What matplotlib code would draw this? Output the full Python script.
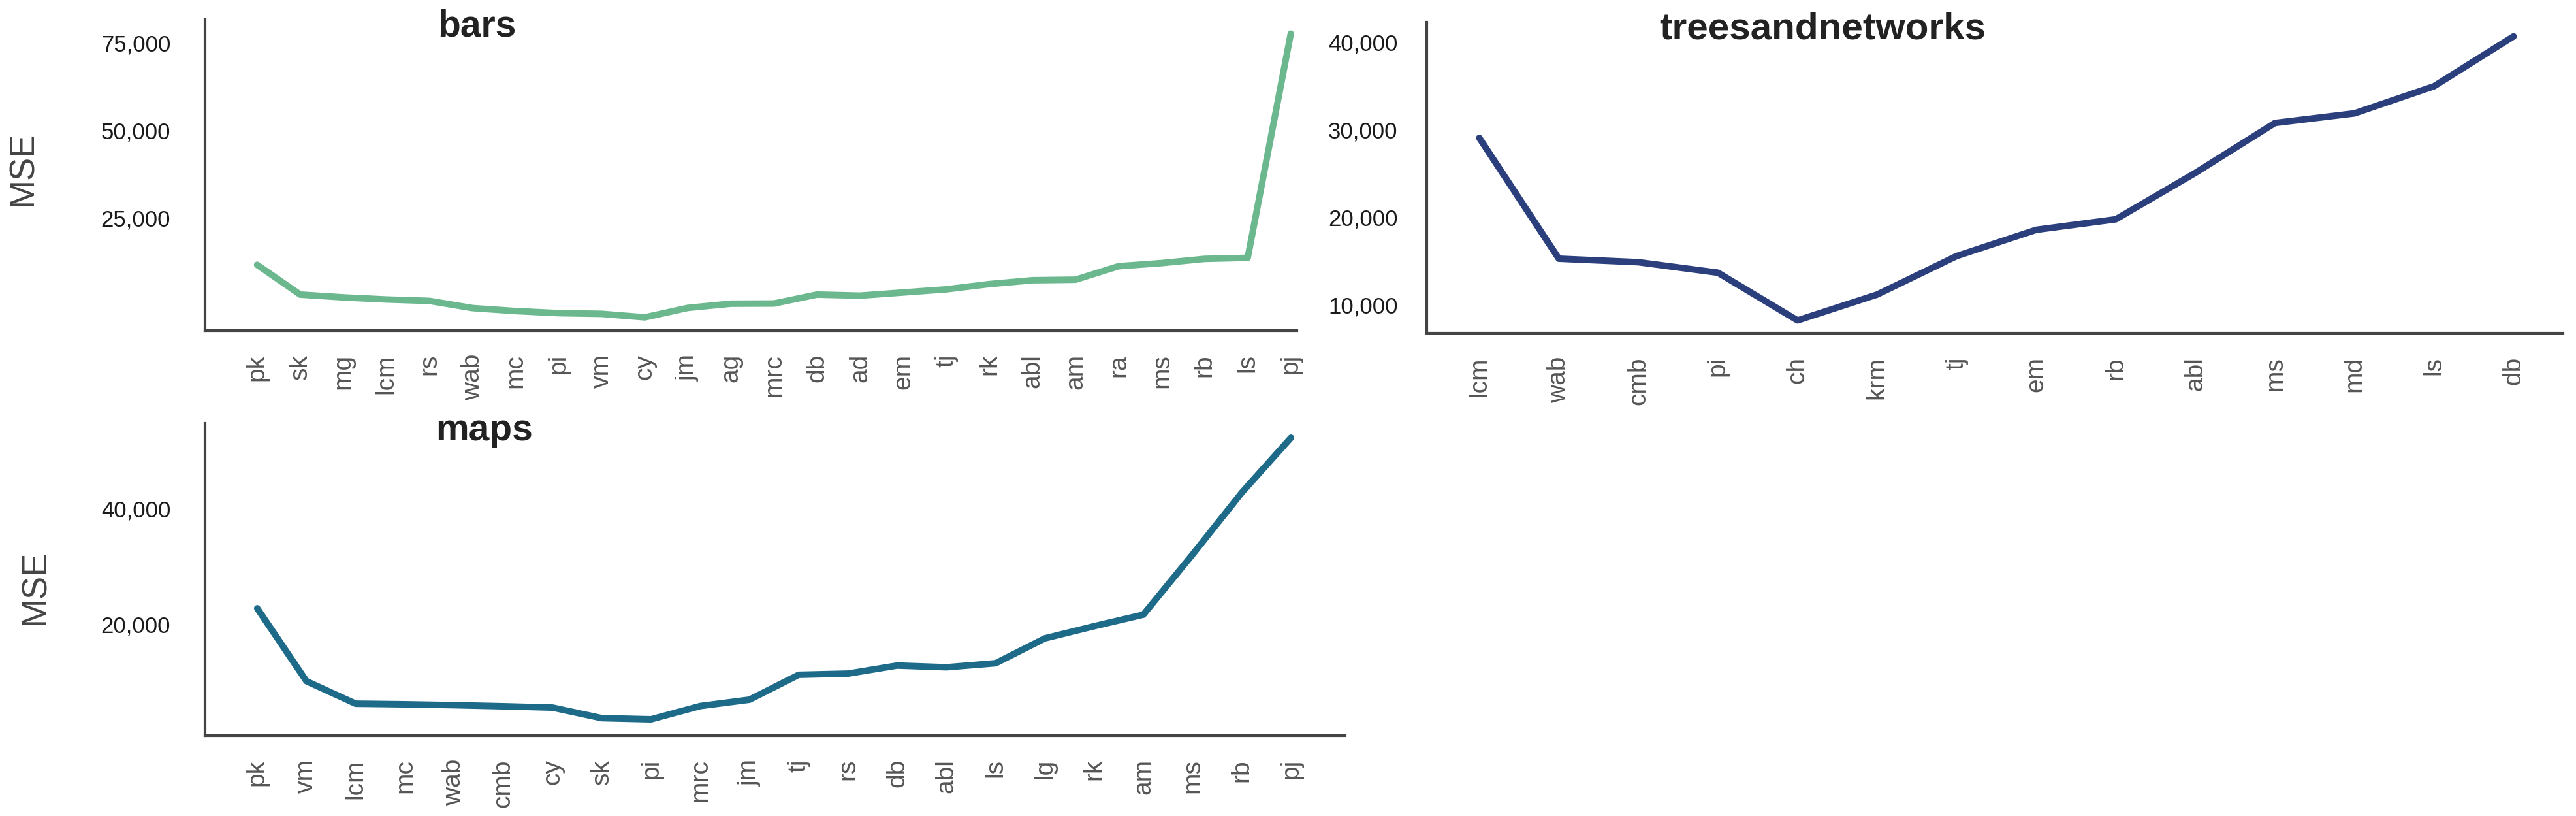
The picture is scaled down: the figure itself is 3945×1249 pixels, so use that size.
import matplotlib
matplotlib.use("Agg")
import matplotlib.pyplot as plt
from matplotlib.ticker import FuncFormatter, FixedLocator

plt.rcParams['font.family'] = ['Liberation Sans', 'DejaVu Sans']

# ---------------- data ----------------
bars_labels = ['pk', 'sk', 'mg', 'lcm', 'rs', 'wab', 'mc', 'pi', 'vm', 'cy', 'jm', 'ag', 'mrc',
               'db', 'ad', 'em', 'tj', 'rk', 'abl', 'am', 'ra', 'ms', 'rb', 'ls', 'pj']
bars_mse = [11500, 3000, 2200, 1600, 1200, -850, -1700, -2300, -2500, -3500, -800, 400, 450,
            3000, 2700, 3600, 4500, 6000, 7100, 7250, 11100, 12000, 13200, 13500, 77500]

trees_labels = ['lcm', 'wab', 'cmb', 'pi', 'ch', 'krm', 'tj', 'em', 'rb', 'abl', 'ms', 'md', 'ls', 'db']
trees_mse = [29100, 15300, 14900, 13700, 8250, 11200, 15600, 18600, 19800, 25100, 30800, 31900, 35000, 40700]

maps_labels = ['pk', 'vm', 'lcm', 'mc', 'wab', 'cmb', 'cy', 'sk', 'pi', 'mrc', 'jm', 'tj', 'rs',
               'db', 'abl', 'ls', 'lg', 'rk', 'am', 'ms', 'rb', 'pj']
maps_mse = [22700, 10100, 6200, 6100, 5950, 5760, 5530, 3700, 3500, 5800, 6900, 11200, 11400,
            12800, 12500, 13200, 17500, 19600, 21600, 32000, 42700, 52200]

bars_ticks = [25000, 50000, 75000]
trees_ticks = [10000, 20000, 30000, 40000]
maps_ticks = [20000, 40000]

# ---------------- figure ----------------
W, H = 3945, 1249
DPI = 100
fig = plt.figure(figsize=(W / DPI, H / DPI), dpi=DPI)
fig.patch.set_facecolor('white')


def rect(left, right, top, bottom):
    return [left / W, 1 - bottom / H, (right - left) / W, (bottom - top) / H]


def style_axis(ax, labels, values, color, xlim, ylim, yticks, ypad):
    x = list(range(len(labels)))
    ax.plot(x, values, color=color, lw=7.2, solid_capstyle='round', solid_joinstyle='round')
    ax.set_xlim(*xlim)
    ax.set_ylim(*ylim)
    ax.xaxis.set_major_locator(FixedLocator(x))
    ax.set_xticklabels(labels, rotation=90, fontsize=28, color='#555555')
    ax.yaxis.set_major_locator(FixedLocator(yticks))
    ax.yaxis.set_major_formatter(FuncFormatter(lambda v, p: f"{int(v):,}"))
    ax.tick_params(axis='y', length=0, pad=ypad, labelsize=25, labelcolor='#1a1a1a')
    ax.tick_params(axis='x', length=0, pad=26)
    for s in ['top', 'right']:
        ax.spines[s].set_visible(False)
    for s in ['left', 'bottom']:
        ax.spines[s].set_color('#444444')
        ax.spines[s].set_linewidth(3.0)
    ax.set_facecolor('white')


ax1 = fig.add_axes(rect(314, 1986, 30, 506))
style_axis(ax1, bars_labels, bars_mse, '#6cb88e', (-1.21, 24.14), (-7276, 81530), bars_ticks, 38)

ax2 = fig.add_axes(rect(2185, 3925, 34, 510))
style_axis(ax2, trees_labels, trees_mse, '#2b3f7d', (-0.66, 13.62), (6790, 42313), trees_ticks, 32)

ax3 = fig.add_axes(rect(314, 2060, 648, 1126))
style_axis(ax3, maps_labels, maps_mse, '#1d6a89', (-1.06, 22.1), (678, 54690), maps_ticks, 38)

# titles
fig.text(730 / W, 1 - 55 / H, 'bars', fontsize=41, fontweight='bold', color='#222222',
         ha='center', va='baseline')
fig.text(2791 / W, 1 - 59 / H, 'treesandnetworks', fontsize=42, fontweight='bold', color='#222222',
         ha='center', va='baseline')
fig.text(742 / W, 1 - 674 / H, 'maps', fontsize=41, fontweight='bold', color='#222222',
         ha='center', va='baseline')

# y labels
fig.text(35 / W, 1 - 258 / H, 'MSE', fontsize=38, color='#444444', rotation=90,
         ha='center', va='center')
fig.text(54 / W, 1 - 899 / H, 'MSE', fontsize=38, color='#444444', rotation=90,
         ha='center', va='center')

fig.savefig('out.png', dpi=DPI, facecolor='white')
